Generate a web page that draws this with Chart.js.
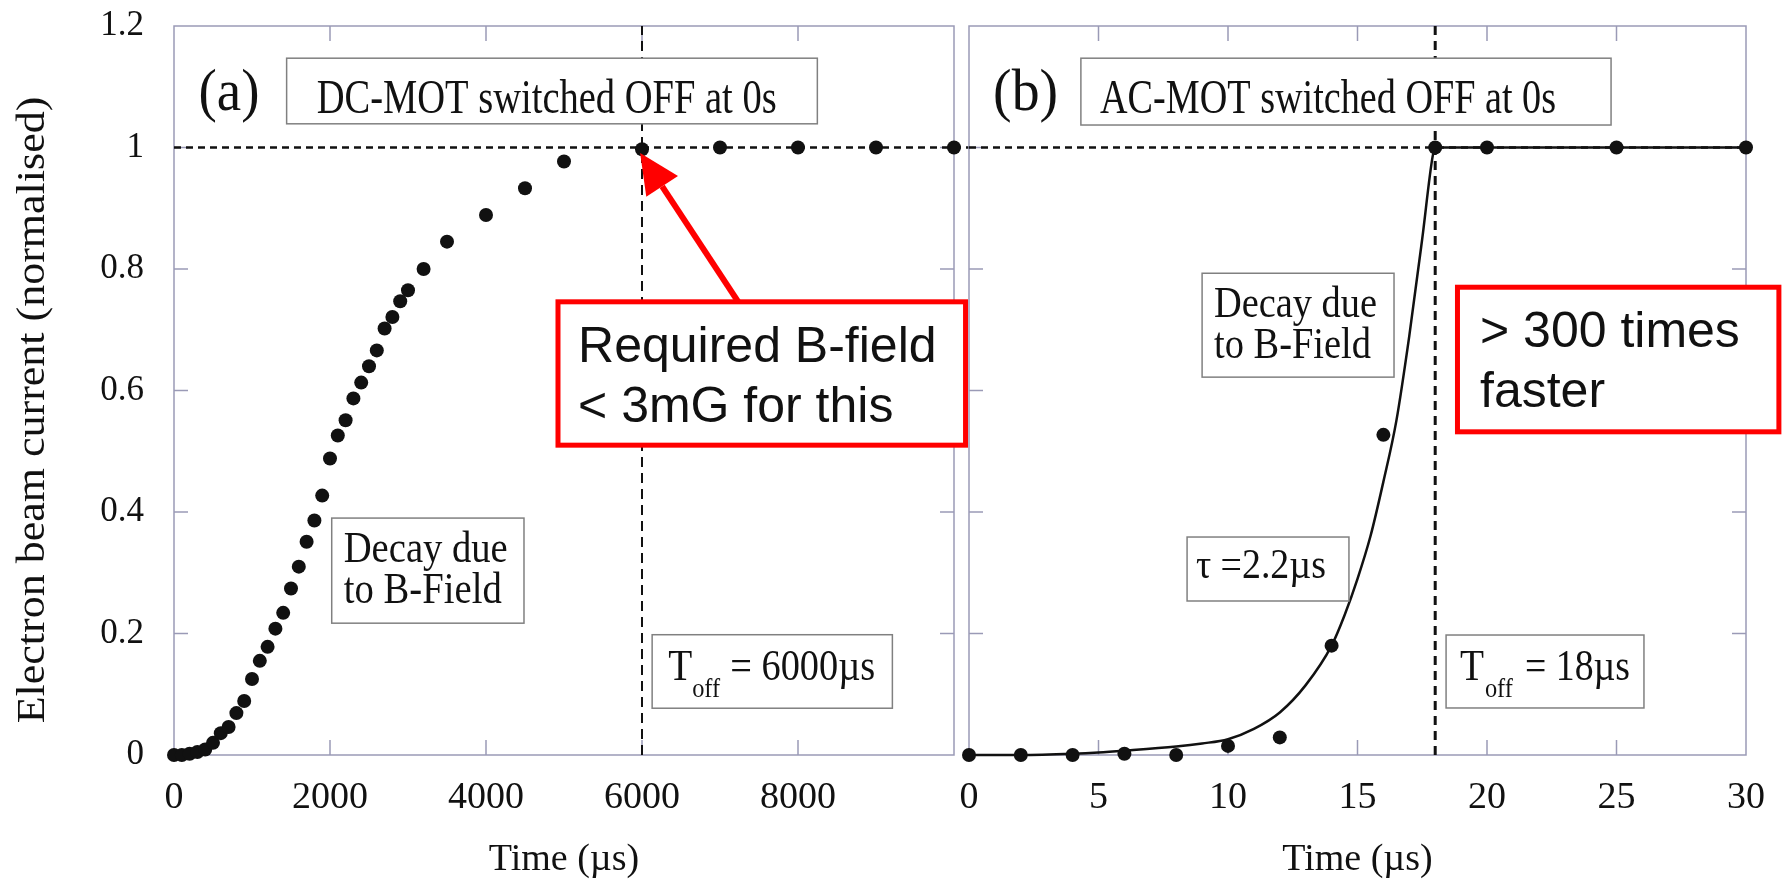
<!DOCTYPE html>
<html>
<head>
<meta charset="utf-8">
<script src="https://cdn.jsdelivr.net/npm/chart.js@4.4.1/dist/chart.umd.min.js"></script>
<style>
  html, body { margin: 0; padding: 0; background: #fff; }
  #wrap { position: relative; width: 1783px; height: 884px; overflow: hidden; }
  canvas { position: absolute; top: 0; }
  #left { left: 0; }
  #right { left: 958px; }
</style>
</head>
<body>
<div id="wrap">
  <canvas id="left" width="975" height="884"></canvas>
  <canvas id="right" width="825" height="884"></canvas>
</div>
<script>
// (a) DC-MOT switched off, time in µs
const dcTime = [0, 100, 200, 300, 400, 500, 600, 700, 800, 900,
  1000, 1100, 1200, 1300, 1400, 1500, 1600, 1700, 1800, 1900,
  2000, 2100, 2200, 2300, 2400, 2500, 2600, 2700, 2800, 2900,
  3000, 3200, 3500, 4000, 4500, 5000, 6000, 7000, 8000, 9000, 10000];
const dcCurrent = [0, 0, 0.002, 0.005, 0.009, 0.020, 0.036, 0.046, 0.069, 0.089,
  0.125, 0.155, 0.178, 0.208, 0.234, 0.274, 0.310, 0.351, 0.386, 0.427,
  0.488, 0.526, 0.551, 0.587, 0.613, 0.640, 0.666, 0.702, 0.721, 0.747,
  0.765, 0.800, 0.845, 0.889, 0.933, 0.977, 0.997, 1, 1, 1, 1];

// (b) AC-MOT switched off, time in µs
const acTime = [0, 2, 4, 6, 8, 10, 12, 14, 16, 18, 20, 25, 30];
const acCurrent = [0, 0, 0, 0.002, 0, 0.015, 0.029, 0.180, 0.527, 1, 1, 1, 1];

// fitted curve (tau = 2.2 µs)
const fitTime = [0, 2, 4, 5, 6, 8, 9, 10, 11, 12, 13, 14, 14.5, 15, 15.5, 16, 16.5, 17, 17.5, 17.9, 18, 30];
const fitCurrent = [0, 0, 0.002, 0.004, 0.007, 0.014, 0.019, 0.026, 0.043, 0.070, 0.115, 0.180, 0.230, 0.290, 0.360, 0.450, 0.550, 0.690, 0.850, 0.985, 1, 1];

const dcTicks = [0, 2000, 4000, 6000, 8000];
const acTicks = [0, 5, 10, 15, 20, 25, 30];
const yTicks = [0, 0.2, 0.4, 0.6, 0.8, 1, 1.2];
const yTickLabels = ['0', '0.2', '0.4', '0.6', '0.8', '1', '1.2'];

const dcOff = 6000;
const acOff = 18;

const ink = '#111';
const frameColor = '#9a9ab6';
const serif = '"Liberation Serif", "Times New Roman", serif';
const sans = '"Liberation Sans", Arial, sans-serif';

// draws text with its left baseline at x,y, squeezed to a width if given
function squeezeText(ctx, text, x, y, size, family, width) {
  ctx.font = size + 'px ' + family;
  const w = ctx.measureText(text).width;
  ctx.save();
  ctx.translate(x, y);
  if (width) ctx.scale(width / w, 1);
  ctx.textAlign = 'left';
  ctx.textBaseline = 'alphabetic';
  ctx.fillStyle = ink;
  ctx.fillText(text, 0, 0);
  ctx.restore();
}

function panelPlugin(p) {
  return {
    id: 'panel',
    beforeDatasetsDraw(chart) {
      const ctx = chart.ctx, a = chart.chartArea;
      const xs = chart.scales.x, ys = chart.scales.y;
      ctx.save();
      // frame
      ctx.strokeStyle = frameColor;
      ctx.lineWidth = 1.5;
      ctx.strokeRect(a.left, a.top, a.right - a.left, a.bottom - a.top);
      // inward tick marks
      ctx.beginPath();
      p.xTicks.forEach(v => {
        if (v <= xs.min || v >= xs.max) return;
        const px = xs.getPixelForValue(v);
        ctx.moveTo(px, a.bottom); ctx.lineTo(px, a.bottom - 15);
        ctx.moveTo(px, a.top); ctx.lineTo(px, a.top + 15);
      });
      yTicks.forEach(v => {
        if (v <= ys.min || v >= ys.max) return;
        const py = ys.getPixelForValue(v);
        ctx.moveTo(a.left, py); ctx.lineTo(a.left + 14, py);
        ctx.moveTo(a.right, py); ctx.lineTo(a.right - 14, py);
      });
      ctx.stroke();
      // dashed reference lines
      ctx.strokeStyle = ink;
      p.dashes.forEach(d => {
        ctx.lineWidth = d.width;
        ctx.setLineDash(d.dash);
        ctx.beginPath();
        if (d.axis === 'y') {
          const py = ys.getPixelForValue(d.value);
          ctx.moveTo(xs.getPixelForValue(d.from), py);
          ctx.lineTo(xs.getPixelForValue(d.to), py);
        } else {
          const px = xs.getPixelForValue(d.value);
          ctx.moveTo(px, a.bottom);
          ctx.lineTo(px, a.top);
        }
        ctx.stroke();
      });
      ctx.restore();
    },
    afterDatasetsDraw(chart) {
      const ctx = chart.ctx;
      const xs = chart.scales.x, ys = chart.scales.y;
      const X = v => xs.getPixelForValue(v), Y = v => ys.getPixelForValue(v);
      ctx.save();
      p.boxes.forEach(b => {
        const x0 = X(b.t0), x1 = X(b.t1), y0 = Y(b.v1), y1 = Y(b.v0);
        ctx.fillStyle = '#fff';
        ctx.fillRect(x0, y0, x1 - x0, y1 - y0);
        ctx.setLineDash([]);
        ctx.strokeStyle = b.red ? '#ff0000' : '#808080';
        ctx.lineWidth = b.red ? 5 : 1.5;
        ctx.strokeRect(x0, y0, x1 - x0, y1 - y0);
      });
      if (p.arrow) {
        const sx = X(p.arrow.fromT), sy = Y(p.arrow.fromV);
        const tx = X(p.arrow.toT), ty = Y(p.arrow.toV);
        const ang = Math.atan2(ty - sy, tx - sx);
        const len = 40, half = 19;
        const bx = tx - len * Math.cos(ang), by = ty - len * Math.sin(ang);
        ctx.strokeStyle = '#ff0000';
        ctx.fillStyle = '#ff0000';
        ctx.lineWidth = 6;
        ctx.beginPath();
        ctx.moveTo(sx, sy); ctx.lineTo(bx, by);
        ctx.stroke();
        ctx.beginPath();
        ctx.moveTo(tx, ty);
        ctx.lineTo(bx + half * Math.sin(ang), by - half * Math.cos(ang));
        ctx.lineTo(bx - half * Math.sin(ang), by + half * Math.cos(ang));
        ctx.closePath();
        ctx.fill();
      }
      p.texts.forEach(t => {
        squeezeText(ctx, t.text, X(t.t), Y(t.v), t.size, t.family || serif, t.width);
      });
      ctx.restore();
    },
    afterDraw(chart) {
      if (!p.yTitle) return;
      const ctx = chart.ctx;
      ctx.save();
      ctx.translate(44, 410);
      ctx.rotate(-Math.PI / 2);
      ctx.scale(1, 0.92);
      ctx.font = '44px ' + serif;
      ctx.fillStyle = ink;
      ctx.textAlign = 'center';
      ctx.textBaseline = 'alphabetic';
      ctx.fillText(p.yTitle, 0, 0);
      ctx.restore();
    }
  };
}

function xAxis(min, max, ticks) {
  return {
    type: 'linear', min: min, max: max,
    afterBuildTicks: s => { s.ticks = ticks.map(v => ({ value: v })); },
    afterFit: s => { s.height = 129; s.paddingLeft = 0; s.paddingRight = 0; },
    grid: { display: false }, border: { display: false },
    ticks: { autoSkip: false, maxRotation: 0, padding: 12, color: ink,
      font: { family: serif, size: 38 }, callback: v => String(v) },
    title: { display: true, text: 'Time (µs)', color: ink,
      font: { family: serif, size: 38 }, padding: { top: 0, bottom: 1 } }
  };
}

const baseOptions = {
  responsive: false,
  animation: false,
  events: [],
  plugins: { legend: { display: false }, tooltip: { enabled: false } }
};

const pairs = (xs, ys) => xs.map((x, i) => ({ x: x, y: ys[i] }));

new Chart(document.getElementById('left'), {
  type: 'scatter',
  data: {
    datasets: [{
      data: pairs(dcTime, dcCurrent),
      pointRadius: 7, pointBackgroundColor: ink, pointBorderWidth: 0,
      showLine: false, clip: false
    }]
  },
  options: Object.assign({}, baseOptions, {
    layout: { padding: { left: 0, top: 26, right: 21, bottom: 0 } },
    scales: {
      x: xAxis(0, 10000, dcTicks),
      y: {
        type: 'linear', min: 0, max: 1.2,
        afterBuildTicks: s => { s.ticks = yTicks.map(v => ({ value: v })); },
        afterFit: s => { s.width = 174; s.paddingTop = 0; s.paddingBottom = 0; },
        grid: { display: false }, border: { display: false },
        ticks: { padding: 22, color: ink, font: { family: serif, size: 35 },
          callback: (v, i) => yTickLabels[i] }
      }
    }
  }),
  plugins: [panelPlugin({
    xTicks: dcTicks,
    yTitle: 'Electron beam current (normalised)',
    dashes: [
      { axis: 'y', value: 1, from: 0, to: 10200, width: 2.5, dash: [7, 5] },
      { axis: 'x', value: dcOff, width: 2, dash: [10, 6] }
    ],
    boxes: [
      { t0: 1444, t1: 8248, v0: 1.039, v1: 1.147 },
      { t0: 2022, t1: 4487, v0: 0.217, v1: 0.390 },
      { t0: 6130, t1: 9210, v0: 0.077, v1: 0.198 },
      { t0: 4923, t1: 10148, v0: 0.510, v1: 0.746, red: true }
    ],
    arrow: { fromT: 7234, fromV: 0.746, toT: 5976, toV: 0.991 },
    texts: [
      { text: '(a)', t: 314, v: 1.062, size: 60, width: 61 },
      { text: 'DC-MOT switched OFF at 0s', t: 1829, v: 1.057, size: 49, width: 460 },
      { text: 'Decay due', t: 2176, v: 0.318, size: 44, width: 164 },
      { text: 'to B-Field', t: 2176, v: 0.250, size: 44, width: 158 },
      { text: 'T', t: 6335, v: 0.1235, size: 44, width: 24 },
      { text: 'off', t: 6643, v: 0.0955, size: 28, width: 28 },
      { text: '= 6000µs', t: 7131, v: 0.1235, size: 44, width: 145 },
      { text: 'Required B-field', t: 5180, v: 0.647, size: 50, family: sans },
      { text: '< 3mG for this', t: 5180, v: 0.548, size: 50, family: sans }
    ]
  })]
});

new Chart(document.getElementById('right'), {
  type: 'scatter',
  data: {
    datasets: [{
      data: pairs(acTime, acCurrent),
      pointRadius: 7, pointBackgroundColor: ink, pointBorderWidth: 0,
      showLine: false, clip: false
    }, {
      data: pairs(fitTime, fitCurrent),
      showLine: true, pointRadius: 0, borderColor: ink, borderWidth: 2.5,
      cubicInterpolationMode: 'monotone', clip: false
    }]
  },
  options: Object.assign({}, baseOptions, {
    layout: { padding: { left: 11, top: 26, right: 37, bottom: 0 } },
    scales: {
      x: xAxis(0, 30, acTicks),
      y: { type: 'linear', min: 0, max: 1.2, display: false }
    }
  }),
  plugins: [panelPlugin({
    xTicks: acTicks,
    dashes: [
      { axis: 'y', value: 1, from: 0, to: 30, width: 2.5, dash: [7, 5] },
      { axis: 'x', value: acOff, width: 3, dash: [9, 6] }
    ],
    boxes: [
      { t0: 4.32, t1: 24.79, v0: 1.037, v1: 1.147 },
      { t0: 9.0, t1: 16.41, v0: 0.622, v1: 0.793 },
      { t0: 8.42, t1: 14.67, v0: 0.2535, v1: 0.3588 },
      { t0: 18.42, t1: 26.06, v0: 0.0774, v1: 0.1975 },
      { t0: 18.86, t1: 31.27, v0: 0.532, v1: 0.770, red: true }
    ],
    texts: [
      { text: '(b)', t: 0.93, v: 1.062, size: 60, width: 65 },
      { text: 'AC-MOT switched OFF at 0s', t: 5.06, v: 1.057, size: 49, width: 456 },
      { text: 'Decay due', t: 9.46, v: 0.721, size: 44, width: 163 },
      { text: 'to B-Field', t: 9.46, v: 0.6535, size: 44, width: 157 },
      { text: 'τ =2.2µs', t: 8.76, v: 0.2914, size: 42, width: 130 },
      { text: 'T', t: 18.96, v: 0.1235, size: 44, width: 24 },
      { text: 'off', t: 19.92, v: 0.0955, size: 28, width: 28 },
      { text: '= 18µs', t: 21.47, v: 0.1235, size: 44, width: 105 },
      { text: '> 300 times', t: 19.73, v: 0.6716, size: 50, family: sans },
      { text: 'faster', t: 19.73, v: 0.5728, size: 50, family: sans }
    ]
  })]
});
</script>
</body>
</html>
